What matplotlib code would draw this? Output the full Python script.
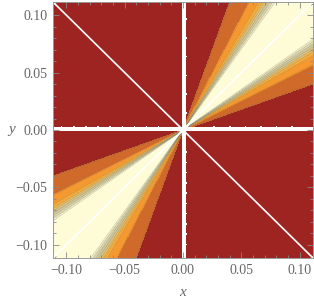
import numpy as np
import matplotlib
matplotlib.use('Agg')
from matplotlib import pyplot as plt
from matplotlib.ticker import MultipleLocator

# contour levels for the ratio t = min(y/x, x/y)
levels = [0.0, 0.36, 0.51, 0.58, 0.61, 0.63, 0.65, 0.67, 0.69, 0.71, 1.01]
band_colors = ['#9e2422', '#cf6a2b', '#f5982f', '#f6a838', '#f2b84e',
               '#dfc480', '#d2c899', '#d9d3aa', '#e9e4bd', '#fefcd6']
x_ticks = [-0.10, -0.05, 0.00, 0.05, 0.10]
y_ticks = [-0.10, -0.05, 0.00, 0.05, 0.10]
tick_labels = ['\u22120.10', '\u22120.05', '0.00', '0.05', '0.10']
lim = 0.1115

n = 151
x = np.linspace(-lim, lim, n)
y = np.linspace(-lim, lim, n)
X, Y = np.meshgrid(x, y)
with np.errstate(divide='ignore', invalid='ignore'):
    Z = np.where(X * Y > 0, np.minimum(Y / X, X / Y), 0.0)
# undefined on the axes -> white gaps (slightly to the positive side)
i0 = n // 2
Z[:, i0:i0 + 2] = np.nan
Z[i0:i0 + 2, :] = np.nan
# sampling bumps along the gaps
Z[i0 + 2, 5:i0 - 8:7] = np.nan
Z[i0 + 2, i0 + 18:n - 5:9] = np.nan
Z[8:i0 - 10:6, i0 + 2] = np.nan
Z[i0 + 10:n - 5:11, i0 + 2] = np.nan
Z = np.ma.masked_invalid(Z)

fig = plt.figure(figsize=(3.14, 3.02), dpi=100)
ax = fig.add_axes([53 / 314, 44 / 302, 260 / 314, 256 / 302])

ax.contourf(X, Y, Z, levels=levels, colors=band_colors)
ax.contour(X, Y, Z, levels=levels[1:-1], colors='#6b6650', linewidths=0.4, alpha=0.4)

# white lines on the two diagonals
ax.plot(x, x, color='white', lw=1.3)
ax.plot(x, -x, color='white', lw=1.2)

ax.set_xlim(-lim, lim)
ax.set_ylim(-lim, lim)

serif = ['Liberation Serif', 'DejaVu Serif']
ax.set_xticks(x_ticks)
ax.set_yticks(y_ticks)
ax.set_xticklabels(tick_labels, family=serif)
ax.set_yticklabels(tick_labels, family=serif)
ax.xaxis.set_minor_locator(MultipleLocator(0.01))
ax.yaxis.set_minor_locator(MultipleLocator(0.01))
ax.tick_params(which='both', direction='in', top=True, right=True, color='#888888',
               labelsize=10, labelcolor='#666666', width=0.6)
ax.tick_params(which='major', length=4, pad=4)
ax.tick_params(which='minor', length=2.5)
for s in ax.spines.values():
    s.set_color('#999999')
    s.set_linewidth(0.7)

ax.set_xlabel('x', family=serif, style='italic', fontsize=11, color='#666666', labelpad=7)
ax.set_ylabel('y', family=serif, style='italic', fontsize=11, color='#666666',
              rotation=0, labelpad=2.5, va='center')

plt.savefig('out.png', dpi=100)
